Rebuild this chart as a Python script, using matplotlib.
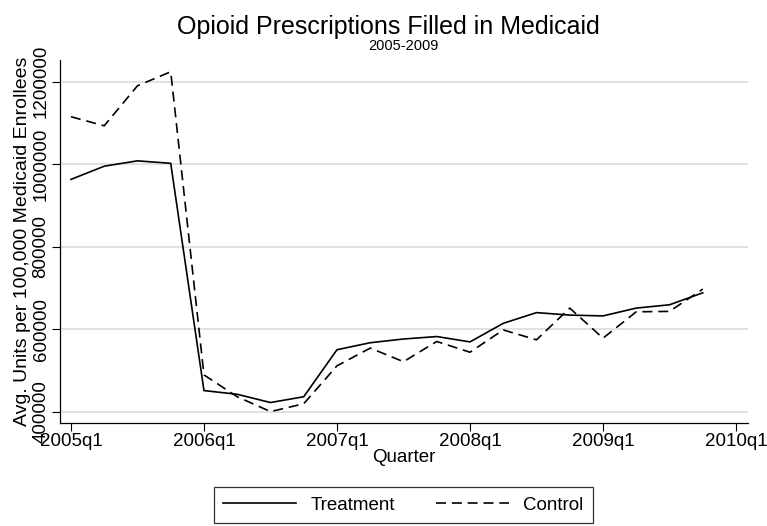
import matplotlib
matplotlib.use("Agg")
import matplotlib.pyplot as plt
from matplotlib.lines import Line2D

# quarterly data, 2005q1 .. 2009q4
quarters = list(range(20))
treatment = [963000, 995000, 1008000, 1002000, 451000, 442000, 422000, 436000,
             550000, 567000, 576000, 582000, 569000, 614000, 640000, 634000,
             632000, 651000, 659000, 688000]
control = [1115000, 1093000, 1190000, 1224000, 489000, 436000, 400000, 419000,
           511000, 554000, 521000, 570000, 544000, 598000, 574000, 651000,
           578000, 642000, 643000, 697000]

xtick_pos = [0, 4, 8, 12, 16, 20]
xtick_labels = ["2005q1", "2006q1", "2007q1", "2008q1", "2009q1", "2010q1"]
ytick_pos = [400000, 600000, 800000, 1000000, 1200000]

plt.rcParams["font.family"] = ["Liberation Sans", "DejaVu Sans"]

fig = plt.figure(figsize=(7.67, 5.26), dpi=100)
ax = fig.add_axes([0.0782, 0.196, 0.897, 0.69])

ax.plot(quarters, treatment, color="black", lw=1.2, label="Treatment")
ax.plot(quarters, control, color="black", lw=1.2, ls=(0, (6, 3.5)), label="Control")

ax.set_xlim(-0.33, 20.36)
ax.set_ylim(372600, 1252600)
ax.set_xticks(xtick_pos)
ax.set_xticklabels(xtick_labels, fontsize=13.5)
ax.set_yticks(ytick_pos)
ax.set_yticklabels([str(v) for v in ytick_pos], fontsize=13.5)
plt.setp(ax.get_yticklabels(), rotation=90, va="center")
ax.tick_params(axis="both", length=6, width=0.8, color="black", pad=1.5)

ax.grid(axis="y", color="#dcdcdc", lw=1.2)
ax.set_axisbelow(True)
for s in ["top", "right"]:
    ax.spines[s].set_visible(False)
for s in ["left", "bottom"]:
    ax.spines[s].set_linewidth(0.9)

ax.set_ylabel("Avg. Units per 100,000 Medicaid Enrollees", fontsize=14, labelpad=1)
fig.text(0.527, 0.131, "Quarter", ha="center", va="center", fontsize=13.5)

fig.text(0.507, 0.949, "Opioid Prescriptions Filled in Medicaid", ha="center", va="center",
         fontsize=18)
fig.text(0.526, 0.912, "2005-2009", ha="center", va="center", fontsize=10.5)

handles = [Line2D([], [], color="black", lw=1.2),
           Line2D([], [], color="black", lw=1.2, ls=(0, (6, 3.5)))]
leg = fig.legend(handles, ["Treatment", "Control"], loc="center", ncol=2,
                 bbox_to_anchor=(0.526, 0.04), frameon=True, fancybox=False,
                 prop={"size": 13.5}, handlelength=3.9,
                 columnspacing=2.2, borderpad=0.5, handletextpad=0.75)
leg.get_frame().set_edgecolor("black")
leg.get_frame().set_linewidth(0.9)

fig.savefig("out.png", dpi=100)
